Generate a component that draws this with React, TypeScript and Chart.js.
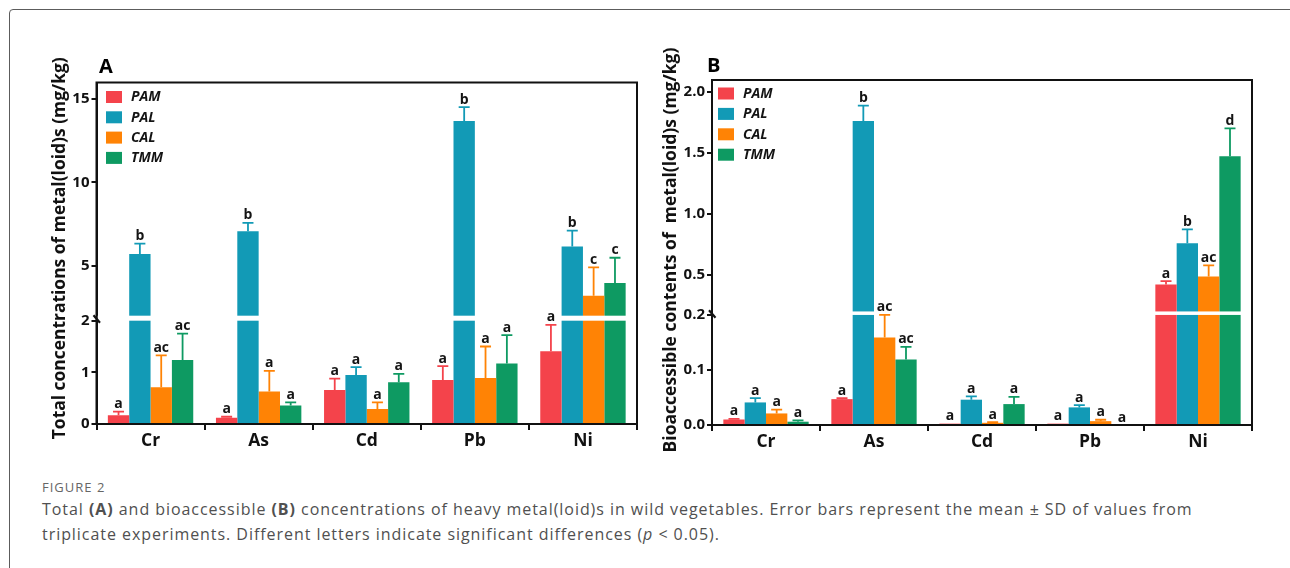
import React, { useEffect, useRef } from 'react';
import { Chart, registerables, LinearScale } from 'chart.js';

Chart.register(...registerables);

// ---------- data ----------
const categories = ['Cr', 'As', 'Cd', 'Pb', 'Ni'];
const seriesNames = ['PAM', 'PAL', 'CAL', 'TMM'];
const seriesColors = ['#F4434B', '#129AB6', '#FF8305', '#0E9A62'];

// Panel A: total concentrations (mg/kg)
const totalPAM = [0.17, 0.12, 0.66, 0.85, 1.41];
const totalPAL = [5.7, 7.07, 0.95, 13.69, 6.16];
const totalCAL = [0.71, 0.63, 0.29, 0.89, 3.19];
const totalTMM = [1.24, 0.36, 0.81, 1.17, 3.96];
const totalPAMsd = [0.07, 0.02, 0.22, 0.27, 0.51];
const totalPALsd = [0.63, 0.5, 0.15, 0.83, 0.95];
const totalCALsd = [0.62, 0.4, 0.13, 0.61, 1.71];
const totalTMMsd = [0.51, 0.06, 0.16, 0.55, 1.52];
const totalPAMsig = ['a', 'a', 'a', 'a', 'a'];
const totalPALsig = ['b', 'b', 'a', 'b', 'b'];
const totalCALsig = ['ac', 'a', 'a', 'a', 'c'];
const totalTMMsig = ['ac', 'a', 'a', 'a', 'c'];
const totalTicks = [0, 1, 2, 5, 10, 15];
const totalTickLabels = ['0', '1', '2', '5', '10', '15'];

// Panel B: bioaccessible contents (mg/kg)
const bioPAM = [0.01, 0.047, 0.0025, 0.0025, 0.421];
const bioPAL = [0.041, 1.764, 0.046, 0.032, 0.759];
const bioCAL = [0.021, 0.159, 0.004, 0.007, 0.486];
const bioTMM = [0.006, 0.119, 0.038, 0, 1.475];
const bioPAMsd = [0.001, 0.002, 0, 0, 0.028];
const bioPALsd = [0.008, 0.125, 0.006, 0.004, 0.114];
const bioCALsd = [0.007, 0.041, 0.001, 0.0025, 0.093];
const bioTMMsd = [0.0025, 0.023, 0.013, 0, 0.228];
const bioPAMsig = ['a', 'a', 'a', 'a', 'a'];
const bioPALsig = ['a', 'b', 'a', 'a', 'b'];
const bioCALsig = ['a', 'ac', 'a', 'a', 'ac'];
const bioTMMsig = ['a', 'ac', 'a', 'a', 'd'];
const bioTicks = [0, 0.1, 0.2, 0.5, 1.0, 1.5, 2.0];
const bioTickLabels = ['0.0', '0.1', '0.2', '0.5', '1.0', '1.5', '2.0'];

// ---------- broken linear scale ----------
class BrokenScale extends LinearScale {
  static id = 'broken';
  static defaults = LinearScale.defaults;
  getPixelForValue(value: number) {
    if (value === null || value === undefined || isNaN(value)) return NaN;
    const o: any = this.options;
    const b = o.breakAt, f = o.lowerFrac, gap = o.gap;
    const top = this.top, bottom = this.bottom;
    const lowerH = (bottom - top) * f;
    if (value <= b) return bottom - ((value - this.min) / (b - this.min)) * lowerH;
    const ub = bottom - lowerH - gap;
    return ub - ((value - b) / (this.max - b)) * (ub - top);
  }
  getValueForPixel(pixel: number) {
    const o: any = this.options;
    const b = o.breakAt, f = o.lowerFrac, gap = o.gap;
    const top = this.top, bottom = this.bottom;
    const lowerH = (bottom - top) * f;
    const lt = bottom - lowerH;
    if (pixel >= lt) return this.min + ((bottom - pixel) / lowerH) * (b - this.min);
    const ub = lt - gap;
    return b + ((ub - pixel) / (ub - top)) * (this.max - b);
  }
}
Chart.register(BrokenScale as any);

const FONT = '"Open Sans", "DejaVu Sans", sans-serif';

type Panel = {
  letter: string;
  title: string;
  values: number[][];
  sds: number[][];
  sigs: string[][];
  ticks: number[];
  tickLabels: string[];
  max: number;
  breakAt: number;
  lowerFrac: number;
  gap: number;
  yWidth: number;
  xHeight: number;
  padTop: number;
  padRight: number;
  titleDx: number;
  titleDy: number;
  titleMaxW: number;
  letterDx: number;
  letterDy: number;
  legendDx: number;
  legendDy: number;
  legendStep: number;
  catPct: number;
};

const panelA: Panel = {
  letter: 'A',
  title: 'Total concentrations of metal(loid)s (mg/kg)',
  values: [totalPAM, totalPAL, totalCAL, totalTMM],
  sds: [totalPAMsd, totalPALsd, totalCALsd, totalTMMsd],
  sigs: [totalPAMsig, totalPALsig, totalCALsig, totalTMMsig],
  ticks: totalTicks,
  tickLabels: totalTickLabels,
  max: 16,
  breakAt: 2,
  lowerFrac: 0.3025,
  gap: 5,
  yWidth: 76.5,
  xHeight: 36,
  padTop: 42.5,
  padRight: 23,
  titleDx: -36.5,
  titleDy: -5,
  titleMaxW: 382,
  letterDx: 2.5,
  letterDy: -15.5,
  legendDx: 9.5,
  legendDy: 14.5,
  legendStep: 20.3,
  catPct: 0.79,
};

const panelB: Panel = {
  letter: 'B',
  title: 'Bioaccessible contents of  metal(loid)s (mg/kg)',
  values: [bioPAM, bioPAL, bioCAL, bioTMM],
  sds: [bioPAMsd, bioPALsd, bioCALsd, bioTMMsd],
  sigs: [bioPAMsig, bioPALsig, bioCALsig, bioTMMsig],
  ticks: bioTicks,
  tickLabels: bioTickLabels,
  max: 2.1,
  breakAt: 0.2,
  lowerFrac: 0.319,
  gap: 3.5,
  yWidth: 72,
  xHeight: 35,
  padTop: 40,
  padRight: 28,
  titleDx: -41,
  titleDy: -2.5,
  titleMaxW: 412,
  letterDx: -5,
  letterDy: -13.5,
  legendDx: 6,
  legendDy: 13.5,
  legendStep: 20.4,
  catPct: 0.79,
};

function makePlugin(p: Panel) {
  return {
    id: 'panelDecor' + p.letter,
    afterDatasetsDraw(chart: any) {
      const ctx = chart.ctx;
      const ca = chart.chartArea;
      const y = chart.scales.y;
      ctx.save();
      // white gap at axis break
      const lowerTop = y.getPixelForValue(p.breakAt);
      const upperBottom = y.getPixelForValue(p.breakAt + 1e-9);
      ctx.fillStyle = '#ffffff';
      ctx.fillRect(ca.left + 1, upperBottom, ca.right - ca.left - 2, lowerTop - upperBottom);

      // error bars and significance letters
      chart.data.datasets.forEach((ds: any, i: number) => {
        const meta = chart.getDatasetMeta(i);
        meta.data.forEach((el: any, j: number) => {
          const v = p.values[i][j];
          const sd = p.sds[i][j];
          const topPx = y.getPixelForValue(v + sd);
          const basePx = y.getPixelForValue(v);
          if (sd > 0) {
            ctx.strokeStyle = seriesColors[i];
            ctx.lineWidth = 1.8;
            ctx.beginPath();
            ctx.moveTo(el.x, basePx);
            ctx.lineTo(el.x, topPx);
            ctx.moveTo(el.x - 5.5, topPx);
            ctx.lineTo(el.x + 5.5, topPx);
            ctx.stroke();
          }
          ctx.fillStyle = '#141414';
          ctx.font = 'bold 14px ' + FONT;
          ctx.textAlign = 'center';
          ctx.textBaseline = 'alphabetic';
          ctx.fillText(p.sigs[i][j], el.x, topPx - 3.5);
        });
      });

      // frame
      ctx.strokeStyle = '#111111';
      ctx.lineWidth = 2;
      ctx.strokeRect(ca.left, ca.top, ca.right - ca.left, ca.bottom - ca.top);

      // break mark on y axis
      const gc = (lowerTop + upperBottom) / 2 + 1;
      ctx.lineWidth = 2.2;
      ctx.beginPath();
      ctx.moveTo(ca.left - 3, gc - 4);
      ctx.lineTo(ca.left + 3.5, gc + 3.5);
      ctx.stroke();

      // legend
      seriesNames.forEach((name, i) => {
        const ry = ca.top + p.legendDy + i * p.legendStep;
        ctx.fillStyle = seriesColors[i];
        ctx.fillRect(ca.left + p.legendDx, ry - 6, 16, 12);
        ctx.fillStyle = '#141414';
        ctx.font = 'italic bold 14px ' + FONT;
        ctx.textAlign = 'left';
        ctx.textBaseline = 'middle';
        ctx.fillText(name, ca.left + p.legendDx + 25, ry + 0.5);
      });

      // panel letter
      ctx.fillStyle = '#000000';
      ctx.font = 'bold 20px ' + FONT;
      ctx.textAlign = 'left';
      ctx.textBaseline = 'middle';
      ctx.fillText(p.letter, ca.left + p.letterDx, ca.top + p.letterDy);

      // y-axis title
      ctx.save();
      ctx.translate(ca.left + p.titleDx, (ca.top + ca.bottom) / 2 + p.titleDy);
      ctx.rotate(-Math.PI / 2);
      ctx.font = 'bold 17.5px ' + FONT;
      ctx.textAlign = 'center';
      ctx.textBaseline = 'middle';
      ctx.fillStyle = '#111111';
      ctx.fillText(p.title, 0, 0, p.titleMaxW);
      ctx.restore();

      ctx.restore();
    },
  };
}

function makeConfig(p: Panel): any {
  return {
    type: 'bar',
    data: {
      labels: categories,
      datasets: seriesNames.map((name, i) => ({
        label: name,
        data: p.values[i],
        backgroundColor: seriesColors[i],
        borderWidth: 0,
        categoryPercentage: p.catPct,
        barPercentage: 1.0,
      })),
    },
    options: {
      responsive: false,
      animation: false,
      devicePixelRatio: 1,
      layout: { padding: { top: p.padTop, right: p.padRight, left: 0, bottom: 0 } },
      plugins: { legend: { display: false }, tooltip: { enabled: false } },
      scales: {
        x: {
          grid: { drawOnChartArea: false, drawTicks: true, tickLength: 6, color: '#111', lineWidth: 2 },
          border: { display: true, color: '#111', width: 2 },
          ticks: { color: '#111', font: { family: FONT, size: 17.5, weight: 'bold' }, padding: 1 },
          afterFit: (s: any) => { s.height = p.xHeight; },
        },
        y: {
          type: 'broken',
          min: 0,
          max: p.max,
          breakAt: p.breakAt,
          lowerFrac: p.lowerFrac,
          gap: p.gap,
          grid: { drawOnChartArea: false, drawTicks: true, tickLength: 5, color: '#111', lineWidth: 2 },
          border: { display: true, color: '#111', width: 2 },
          ticks: {
            color: '#111',
            font: { family: FONT, size: 15, weight: 'bold' },
            padding: 2,
            callback: (_v: any, idx: number) => p.tickLabels[idx],
          },
          afterBuildTicks: (s: any) => { s.ticks = p.ticks.map((v) => ({ value: v })); },
          afterFit: (s: any) => { s.width = p.yWidth; },
        },
      },
    },
    plugins: [makePlugin(p)],
  };
}

function ChartPanel({ panel, left, top }: { panel: Panel; left: number; top: number }) {
  const ref = useRef<HTMLCanvasElement>(null);
  useEffect(() => {
    if (!ref.current) return;
    const chart = new Chart(ref.current, makeConfig(panel));
    return () => chart.destroy();
  }, [panel]);
  return (
    <canvas
      ref={ref}
      width={640}
      height={420}
      style={{ position: 'absolute', left, top, width: 640, height: 420 }}
    />
  );
}

export default function App() {
  const capFont = '"Open Sans", "Noto Sans", sans-serif';
  return (
    <div style={{ position: 'fixed', left: 0, top: 0, width: 1290, height: 568, overflow: 'hidden', background: '#fff' }}>
      <div
        style={{
          position: 'absolute', left: 9, top: 9, width: 1400, height: 700,
          border: '1.5px solid #5c5c5c', borderRadius: 4, boxSizing: 'border-box',
        }}
      />
      <ChartPanel panel={panelA} left={20} top={40} />
      <ChartPanel panel={panelB} left={640} top={40} />
      <div
        style={{
          position: 'absolute', left: 42, top: 479, fontFamily: capFont, fontSize: 13,
          color: '#666', letterSpacing: 1, lineHeight: '16px',
        }}
      >
        FIGURE 2
      </div>
      <div
        style={{
          position: 'absolute', left: 42, top: 497, fontFamily: capFont, fontSize: 16,
          color: '#505050', lineHeight: '25px', whiteSpace: 'nowrap', letterSpacing: 0.95,
        }}
      >
        Total <b>(A)</b> and bioaccessible <b>(B)</b> concentrations of heavy metal(loid)s in wild vegetables. Error bars represent the mean ± SD of values from
        <br />
        triplicate experiments. Different letters indicate significant differences (<i>p</i> &lt; 0.05).
      </div>
    </div>
  );
}
